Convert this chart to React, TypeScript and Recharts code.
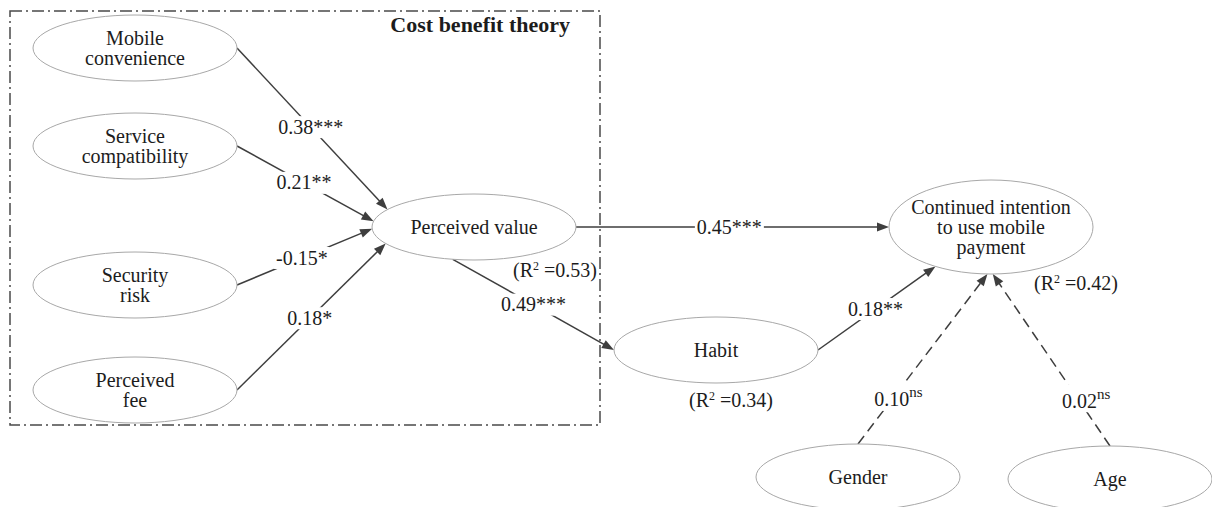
import { ComposedChart, ReferenceArea, ReferenceLine, Scatter, XAxis, YAxis } from "recharts"

// constructs (node centres, in pixel units of the 1212x507 canvas)
const nodeNames = [
  "Mobile convenience",
  "Service compatibility",
  "Security risk",
  "Perceived fee",
  "Perceived value",
  "Habit",
  "Continued intention",
  "Gender",
  "Age",
]
const nodeLines = [
  ["Mobile", "convenience"],
  ["Service", "compatibility"],
  ["Security", "risk"],
  ["Perceived", "fee"],
  ["Perceived value"],
  ["Habit"],
  ["Continued intention", "to use mobile", "payment"],
  ["Gender"],
  ["Age"],
]
const nodeX = [135, 135, 135, 135, 474, 716, 991, 858, 1110]
const nodeY = [48, 146, 285, 390, 227, 350, 227, 477, 479]

// structural paths
const pathFrom = [
  "Mobile convenience",
  "Service compatibility",
  "Security risk",
  "Perceived fee",
  "Perceived value",
  "Perceived value",
  "Habit",
  "Gender",
  "Age",
]
const pathTo = [
  "Perceived value",
  "Perceived value",
  "Perceived value",
  "Perceived value",
  "Continued intention",
  "Habit",
  "Continued intention",
  "Continued intention",
  "Continued intention",
]
const pathCoef = ["0.38", "0.21", "-0.15", "0.18", "0.45", "0.49", "0.18", "0.10", "0.02"]
const pathSig = ["***", "**", "*", "*", "***", "***", "**", "ns", "ns"]

// explained variance
const r2Nodes = ["Perceived value", "Habit", "Continued intention"]
const r2Values = ["0.53", "0.34", "0.42"]

const title = "Cost benefit theory"

// ---- layout / style (not data) ----
const W = 1212
const H = 507
const FONT = '"Liberation Serif", "Times New Roman", serif'
const FS = 20
const INK = "#1c1c1c"
const LINE = "#3e3e3e"

const ELLIPSE: Record<string, [number, number]> = { "Continued intention": [102, 47] }
const sizeOf = (name: string): [number, number] => ELLIPSE[name] ?? [102, 33]

// connection points on each ellipse (angle in degrees, y pointing down)
const anchorFrom = [0, 0, 0, 0, 0, 102, 0, 270, 270]
const anchorTo = [212, 190, 177, 150, 180, 180, 123, 92, 89]
const labelAt = [0.49, 0.49, 0.48, 0.49, 0.49, 0.5, 0.49, 0.26, 0.26]
const r2Offset: Record<string, [number, number]> = {
  "Perceived value": [81, 43],
  Habit: [15, 50],
  "Continued intention": [85, 56],
}

const nodes = nodeNames.map((name, i) => ({
  name,
  x: nodeX[i],
  y: nodeY[i],
  lines: nodeLines[i],
  r2: r2Values[r2Nodes.indexOf(name)],
}))

const pointOn = (name: string, deg: number) => {
  const n = nodes.find((d) => d.name === name)!
  const [rx, ry] = sizeOf(name)
  const a = (deg * Math.PI) / 180
  return { x: n.x + rx * Math.cos(a), y: n.y + ry * Math.sin(a) }
}

const charW: Record<string, number> = { ".": 0.25, "-": 0.333, n: 0.5, s: 0.389 }
const textWidth = (s: string, fs: number) => s.split("").reduce((w, c) => w + (charW[c] ?? 0.5) * fs, 0)

function PathShape(props: any) {
  const { x1, y1, x2, y2, idx } = props
  if (x1 == null) return null
  const dashed = pathSig[idx] === "ns"
  const ang = Math.atan2(y2 - y1, x2 - x1)
  const len = 12
  const half = 4.5
  const bx = x2 - len * Math.cos(ang)
  const by = y2 - len * Math.sin(ang)
  const px = -Math.sin(ang)
  const py = Math.cos(ang)
  const t = labelAt[idx]
  const lx = x1 + t * (x2 - x1)
  const ly = y1 + t * (y2 - y1)
  const main = pathCoef[idx]
  const sup = dashed ? pathSig[idx] : ""
  const text = dashed ? main : main + pathSig[idx]
  const mw = textWidth(text, FS)
  const sw = sup ? textWidth(sup, 15) : 0
  const sx = lx - mw / 2
  return (
    <g>
      <line
        x1={x1}
        y1={y1}
        x2={bx + Math.cos(ang) * 2}
        y2={by + Math.sin(ang) * 2}
        stroke={LINE}
        strokeWidth={1.5}
        strokeDasharray={dashed ? "10 6" : undefined}
      />
      <polygon
        points={`${x2},${y2} ${bx + px * half},${by + py * half} ${bx - px * half},${by - py * half}`}
        fill={LINE}
      />
      <rect
        x={sx - 2}
        y={ly - FS * 0.55 - (sup ? 6 : 0)}
        width={mw + sw + 4}
        height={FS * 1.1 + (sup ? 6 : 0)}
        fill="#fff"
      />
      <text x={sx} y={ly + FS * 0.33} fontFamily={FONT} fontSize={FS} fill={INK}>
        {text}
        {sup && (
          <tspan fontSize={15} dy={-9}>
            {sup}
          </tspan>
        )}
      </text>
    </g>
  )
}

function NodeShape(props: any) {
  const { cx, cy, payload } = props
  const [rx, ry] = sizeOf(payload.name)
  const lines: string[] = payload.lines
  const off = r2Offset[payload.name]
  return (
    <g>
      <ellipse cx={cx} cy={cy} rx={rx} ry={ry} fill="#fff" stroke="#a8a8a8" strokeWidth={1} />
      {lines.map((l, i) => (
        <text
          key={l}
          x={cx}
          y={cy + (i - (lines.length - 1) / 2) * 20 + FS * 0.33}
          textAnchor="middle"
          fontFamily={FONT}
          fontSize={FS}
          fill={INK}
        >
          {l}
        </text>
      ))}
      {payload.r2 && off && (
        <text
          x={cx + off[0]}
          y={cy + off[1] + FS * 0.33}
          textAnchor="middle"
          fontFamily={FONT}
          fontSize={FS}
          fill={INK}
        >
          (R
          <tspan fontSize={12} dy={-7}>
            2
          </tspan>
          <tspan dy={7}> =</tspan>
          {payload.r2})
        </text>
      )}
    </g>
  )
}

function TitleLabel(props: any) {
  const vb = props.viewBox
  if (!vb) return null
  return (
    <text
      x={vb.x + vb.width - 30}
      y={vb.y + 21}
      textAnchor="end"
      fontFamily={FONT}
      fontSize={22}
      fontWeight="bold"
      fill={INK}
    >
      {title}
    </text>
  )
}

export default function App() {
  return (
    <div style={{ position: "absolute", left: 0, top: 0, width: W, height: H, background: "#fff" }}>
      <ComposedChart width={W} height={H} margin={{ top: 0, right: 0, bottom: 0, left: 0 }}>
        <XAxis type="number" dataKey="x" domain={[0, W]} hide allowDataOverflow />
        <YAxis type="number" dataKey="y" domain={[0, H]} reversed hide allowDataOverflow />
        <ReferenceArea
          x1={10}
          x2={600}
          y1={11}
          y2={425}
          fill="none"
          fillOpacity={0}
          stroke="#4a4a4a"
          strokeWidth={1.5}
          strokeDasharray="12 4 2 4"
          ifOverflow="visible"
          label={<TitleLabel />}
        />
        {pathFrom.map((from, i) => {
          const a = pointOn(from, anchorFrom[i])
          const b = pointOn(pathTo[i], anchorTo[i])
          return (
            <ReferenceLine
              key={`path-${i}`}
              segment={[a, b]}
              ifOverflow="visible"
              shape={(p: any) => <PathShape {...p} idx={i} />}
            />
          )
        })}
        <Scatter data={nodes} shape={NodeShape} isAnimationActive={false} />
      </ComposedChart>
    </div>
  )
}
